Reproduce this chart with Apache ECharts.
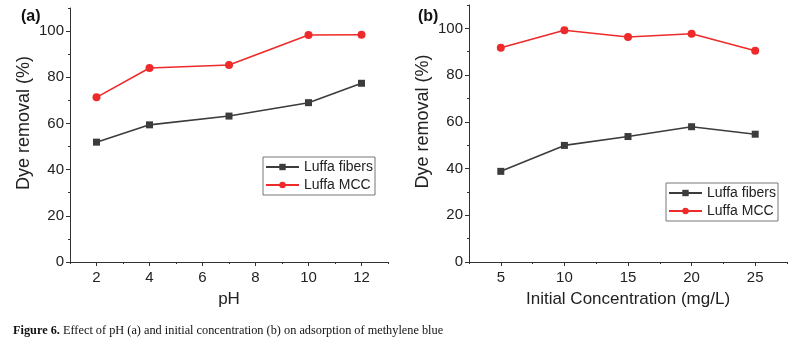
<!DOCTYPE html>
<html>
<head>
<meta charset="utf-8">
<script src="https://cdn.jsdelivr.net/npm/echarts@6/dist/echarts.min.js"></script>
<style>
html,body{margin:0;padding:0;background:#fff;}
#main{width:795px;height:349px;}
</style>
</head>
<body>
<div id="main"></div>
<script>
// (a) effect of pH
var phValues = [2, 4, 7, 10, 12];
var phFibers = [51.9, 59.4, 63.2, 69.0, 77.4];
var phMCC = [71.3, 84.0, 85.3, 98.3, 98.4];
var phTicks = [2, 4, 6, 8, 10, 12];

// (b) effect of initial concentration
var concValues = [5, 10, 15, 20, 25];
var concFibers = [38.8, 49.9, 53.7, 57.9, 54.7];
var concMCC = [91.7, 99.2, 96.3, 97.7, 90.4];
var concTicks = [5, 10, 15, 20, 25];

var yTicks = [0, 20, 40, 60, 80, 100];

var axisColor = '#333';
var fiberColor = '#3c3c3c';
var mccColor = '#ee2a2a';
var sans = 'Liberation Sans';

function pairs(xs, ys) {
    var out = [];
    for (var i = 0; i < xs.length; i++) out.push([xs[i], ys[i]]);
    return out;
}

function mainX(idx, min, max, ticks, name) {
    return {
        type: 'value', gridIndex: idx, min: min, max: max,
        name: name, nameLocation: 'middle', nameGap: 29,
        nameTextStyle: {fontFamily: sans, fontSize: 17, color: '#222'},
        axisLine: {lineStyle: {color: axisColor, width: 1}},
        axisTick: {length: 4, customValues: ticks, lineStyle: {color: axisColor}},
        axisLabel: {customValues: ticks, margin: 8, fontFamily: sans, fontSize: 15, color: '#222'},
        splitLine: {show: false}
    };
}
function mainY(idx) {
    return {
        type: 'value', gridIndex: idx, min: 0, max: 110,
        name: 'Dye removal (%)', nameLocation: 'middle', nameGap: 37,
        nameTextStyle: {fontFamily: sans, fontSize: 18, color: '#222', padding: [0, 0, 0, 24]},
        axisLine: {lineStyle: {color: axisColor, width: 1}},
        axisTick: {length: 4, customValues: yTicks, lineStyle: {color: axisColor}},
        axisLabel: {customValues: yTicks, margin: 6, fontFamily: sans, fontSize: 15, color: '#222'},
        splitLine: {show: false}
    };
}
// overlay axes only for short minor ticks
function minorAxis(idx, min, max, step) {
    return {
        type: 'value', gridIndex: idx, min: min, max: max, interval: step,
        axisLine: {show: false},
        axisTick: {length: 2, lineStyle: {color: axisColor}},
        axisLabel: {show: false},
        splitLine: {show: false}
    };
}
function lineSeries(name, xi, data, color, symbol, size) {
    return {
        name: name, type: 'line', xAxisIndex: xi, yAxisIndex: xi,
        data: data, symbol: symbol, symbolSize: size,
        lineStyle: {color: color, width: 1.6},
        itemStyle: {color: color},
        z: symbol === 'circle' ? 3 : 2
    };
}
function legendAt(left, top) {
    return {
        left: left, top: top, orient: 'vertical',
        itemWidth: 33, itemHeight: 8, itemGap: 2,
        padding: [2, 2, 2, 2],
        borderColor: '#777', borderWidth: 1,
        textStyle: {fontFamily: sans, fontSize: 14, color: '#222', lineHeight: 16},
        data: ['Luffa fibers', 'Luffa MCC']
    };
}

var myChart = echarts.init(document.getElementById('main'));
var option = {
    animation: false,
    backgroundColor: '#fff',
    title: [
        {text: '(a)', left: 16, top: 4, textStyle: {fontFamily: sans, fontSize: 16, fontWeight: 'bold', color: '#111'}},
        {text: '(b)', left: 413, top: 4, textStyle: {fontFamily: sans, fontSize: 16, fontWeight: 'bold', color: '#111'}},
        {
            text: '{b|Figure 6.}{r| Effect of pH (a) and initial concentration (b) on adsorption of methylene blue}',
            left: 13, top: 325, padding: 0,
            textStyle: {
                fontWeight: 'normal',
                rich: {
                    b: {fontFamily: 'Liberation Serif', fontSize: 12.3, fontWeight: 'bold', color: '#111'},
                    r: {fontFamily: 'Liberation Serif', fontSize: 12.3, fontWeight: 'normal', color: '#111'}
                }
            }
        }
    ],
    grid: [
        {left: 70, top: 8, width: 318, height: 254},
        {left: 70, top: 8, width: 318, height: 254},
        {left: 469, top: 5, width: 318, height: 257},
        {left: 469, top: 5, width: 318, height: 257}
    ],
    xAxis: [
        mainX(0, 1, 13, phTicks, 'pH'),
        minorAxis(1, 1, 13, 1),
        mainX(2, 2.5, 27.5, concTicks, 'Initial Concentration (mg/L)'),
        minorAxis(3, 2.5, 27.5, 2.5)
    ],
    yAxis: [
        mainY(0),
        minorAxis(1, 0, 110, 10),
        mainY(2),
        minorAxis(3, 0, 110, 10)
    ],
    legend: [legendAt(263, 157), legendAt(666, 183)],
    series: [
        lineSeries('Luffa fibers', 0, pairs(phValues, phFibers), fiberColor, 'rect', 7),
        lineSeries('Luffa MCC', 0, pairs(phValues, phMCC), mccColor, 'circle', 8),
        lineSeries('Luffa fibers', 2, pairs(concValues, concFibers), fiberColor, 'rect', 7),
        lineSeries('Luffa MCC', 2, pairs(concValues, concMCC), mccColor, 'circle', 8)
    ]
};
myChart.setOption(option);
</script>
</body>
</html>
